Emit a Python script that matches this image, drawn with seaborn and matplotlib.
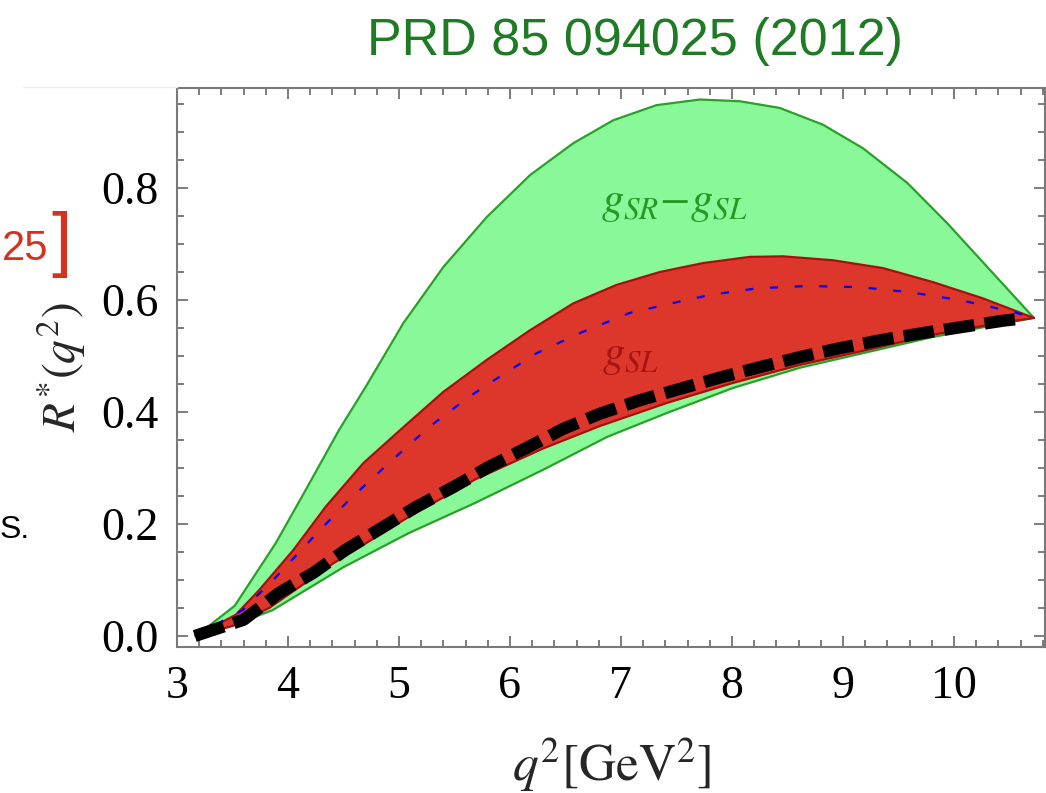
import numpy as np
import matplotlib
matplotlib.use("Agg")
import matplotlib.pyplot as plt
import seaborn as sns
from matplotlib.ticker import MultipleLocator
from matplotlib.lines import Line2D

# R*(q^2) bands, values
green_up_q2 = [3.17, 3.52, 3.89, 4.16, 4.46, 4.70, 5.04, 5.40, 5.79, 6.18, 6.57, 6.93,
               7.32, 7.71, 8.07, 8.43, 8.82, 9.18, 9.58, 9.94, 10.30, 10.72]
green_up_r = [0.0, 0.054, 0.166, 0.261, 0.368, 0.445, 0.559, 0.659, 0.748, 0.823, 0.880, 0.921,
              0.948, 0.958, 0.955, 0.943, 0.913, 0.871, 0.809, 0.737, 0.659, 0.568]

green_lo_q2 = [3.17, 3.40, 3.86, 4.50, 5.09, 5.69, 6.30, 6.88, 7.41, 8.01, 8.61, 9.22,
               9.81, 10.41, 10.72]
green_lo_r = [0.0, 0.012, 0.046, 0.123, 0.184, 0.238, 0.297, 0.356, 0.398, 0.443, 0.479, 0.507,
              0.534, 0.557, 0.568]

red_up_q2 = [3.17, 3.53, 3.74, 4.05, 4.34, 4.68, 5.04, 5.40, 5.79, 6.18, 6.57, 6.96,
             7.35, 7.74, 8.16, 8.46, 8.91, 9.36, 9.81, 10.26, 10.72]
red_up_r = [0.0, 0.038, 0.082, 0.154, 0.231, 0.309, 0.373, 0.436, 0.493, 0.546, 0.594, 0.627,
            0.650, 0.666, 0.677, 0.678, 0.671, 0.657, 0.632, 0.603, 0.568]

red_lo_q2 = [3.17, 3.50, 3.83, 4.41, 5.09, 5.69, 6.30, 6.81, 7.41, 8.01, 8.61, 9.22,
             9.81, 10.41, 10.72]
red_lo_r = [0.0, 0.018, 0.050, 0.130, 0.213, 0.280, 0.335, 0.375, 0.416, 0.452, 0.484, 0.511,
            0.538, 0.559, 0.568]

blue_q2 = [3.16, 3.59, 3.89, 4.23, 4.55, 4.91, 5.27, 5.63, 5.82, 6.24, 6.63, 7.08, 7.50,
           7.80, 8.23, 8.68, 9.15, 9.60, 10.05, 10.53, 10.72]
blue_r = [0.0, 0.046, 0.105, 0.177, 0.243, 0.309, 0.373, 0.427, 0.452, 0.505, 0.541, 0.577, 0.596,
          0.609, 0.621, 0.625, 0.623, 0.614, 0.600, 0.579, 0.568]

sm_q2 = [3.16, 3.60, 3.92, 4.23, 4.52, 4.86, 5.15, 5.49, 5.81, 6.14, 6.48, 6.81, 7.17,
         7.56, 7.92, 8.25, 8.61, 8.97, 9.36, 9.72, 10.08, 10.44, 10.62]
sm_r = [0.0, 0.029, 0.077, 0.113, 0.154, 0.195, 0.230, 0.266, 0.302, 0.335, 0.370, 0.397, 0.421,
        0.443, 0.463, 0.480, 0.498, 0.514, 0.529, 0.541, 0.552, 0.563, 0.567]

x_ticks = [3, 4, 5, 6, 7, 8, 9, 10]
y_ticks = [0.0, 0.2, 0.4, 0.6, 0.8]

sns.set_theme(style="ticks")
plt.rcParams.update({
    "font.family": ["Liberation Serif", "DejaVu Serif"],
    "mathtext.fontset": "stix",
    "axes.edgecolor": "#7a7a7a",
    "axes.linewidth": 1.5,
})

fig = plt.figure(figsize=(10.46, 7.93), dpi=100)
W, H = 1046, 793
ax = fig.add_axes([177 / W, 1 - 647 / H, (1045 - 177) / W, (647 - 88) / H])

# bands as closed polygons (upper edge forward, lower edge back)
ax.fill(np.r_[green_up_q2, green_lo_q2[::-1]], np.r_[green_up_r, green_lo_r[::-1]],
        color="#88f898", lw=0, zorder=1)
ax.fill(np.r_[red_up_q2, red_lo_q2[::-1]], np.r_[red_up_r, red_lo_r[::-1]],
        color="#dd372c", lw=0, zorder=2)

for xs, ys, c, z in [(green_up_q2, green_up_r, "#2aa02a", 1.5),
                     (green_lo_q2, green_lo_r, "#2aa02a", 1.5),
                     (red_up_q2, red_up_r, "#a81010", 2.5),
                     (red_lo_q2, red_lo_r, "#a81010", 2.5)]:
    sns.lineplot(x=xs, y=ys, ax=ax, color=c, lw=1.6, sort=False, estimator=None, zorder=z)

sns.lineplot(x=blue_q2, y=blue_r, ax=ax, color="#0000ff", lw=1.6, sort=False,
             estimator=None, linestyle=(0, (3.6, 7.5)), zorder=3)
sns.lineplot(x=sm_q2, y=sm_r, ax=ax, color="black", lw=8.8, sort=False,
             estimator=None, linestyle=(0, (2.5, 0.85)), solid_capstyle="butt",
             dash_capstyle="butt", zorder=4)

ax.text(7.48, 0.771, r"$g_{SR}{-}g_{SL}$", color="#249a24", fontsize=32,
        ha="center", va="center", zorder=5)
ax.text(7.09, 0.498, r"$g_{SL}$", color="#a81414", fontsize=32,
        ha="center", va="center", zorder=5)

ax.set_xlim(3.0, 10.82)
ax.set_ylim(-0.0196, 0.9786)
ax.set_xticks(x_ticks)
ax.set_yticks(y_ticks)
ax.set_xticklabels([str(t) for t in x_ticks])
ax.set_yticklabels([f"{t:.1f}" for t in y_ticks])
ax.xaxis.set_minor_locator(MultipleLocator(0.2))
ax.yaxis.set_minor_locator(MultipleLocator(0.05))
ax.tick_params(which="both", direction="in", top=True, right=True, colors="#666666",
               labelcolor="black", width=1.2)
ax.tick_params(which="major", length=8, labelsize=33, pad=13)
ax.tick_params(which="minor", length=5)

ax.set_xlabel(r"$q^{2}[\mathrm{GeV}^{2}]$", fontsize=37, labelpad=20)
ax.set_ylabel(r"$R^{*}(q^{2})$", fontsize=34, labelpad=10)

# slide fragments around the plot
fig.text(635 / W, 1 - 42 / H, "PRD 85 094025 (2012)", color="#1f7a24",
         fontsize=37.5, family="Liberation Sans", ha="center", va="center")
fig.text(48 / W, 1 - 249 / H, "25", color="#d2321e", fontsize=30,
         family="Liberation Sans", ha="right", va="center")
fig.text(51 / W, 1 - 245 / H, "]", color="#d2321e", fontsize=52,
         family="Liberation Sans", ha="left", va="center")
fig.text(30 / W, 1 - 538 / H, "S.", color="black", fontsize=23,
         family="Liberation Sans", ha="right", va="baseline")
fig.add_artist(Line2D([23 / W, 177 / W], [1 - 87 / H] * 2, color="#eeeeee", lw=1))

fig.savefig("out.png", dpi=100, facecolor="white")
